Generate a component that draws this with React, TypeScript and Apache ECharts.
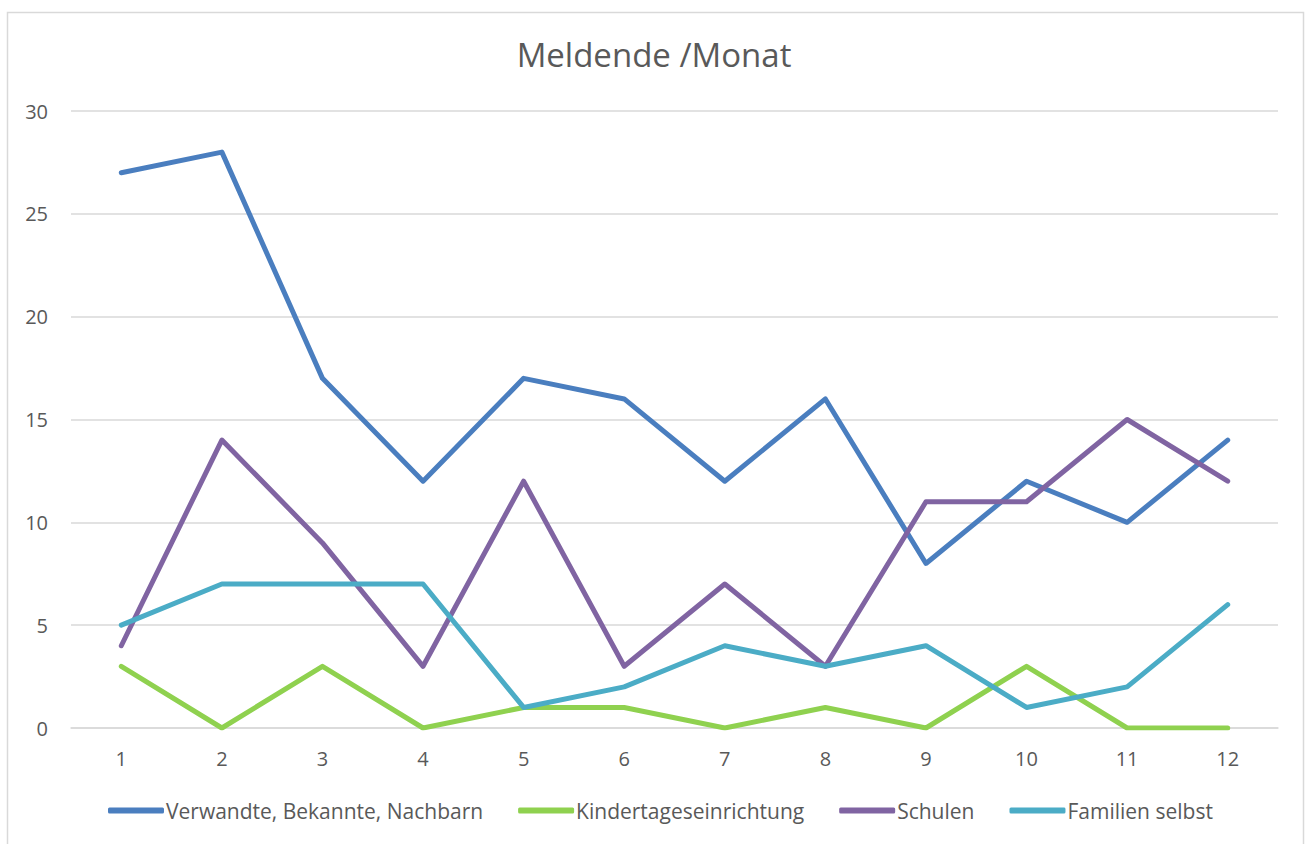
import React, { useEffect, useRef } from "react";
import * as echarts from "echarts";

const months = ["1", "2", "3", "4", "5", "6", "7", "8", "9", "10", "11", "12"];
const verwandte = [27, 28, 17, 12, 17, 16, 12, 16, 8, 12, 10, 14];
const kinder = [3, 0, 3, 0, 1, 1, 0, 1, 0, 3, 0, 0];
const schulen = [4, 14, 9, 3, 12, 3, 7, 3, 11, 11, 15, 12];
const familien = [5, 7, 7, 7, 1, 2, 4, 3, 4, 1, 2, 6];

const seriesNames = ["Verwandte, Bekannte, Nachbarn", "Kindertageseinrichtung", "Schulen", "Familien selbst"];
const seriesData = [verwandte, kinder, schulen, familien];
const colors = ["#4A7EBF", "#8FD14F", "#8064A2", "#4BACC6"];

const FONT = "Open Sans";

export default function App() {
  const ref = useRef<HTMLDivElement>(null);
  useEffect(() => {
    const chart = echarts.init(ref.current!, undefined, { renderer: "svg" });
    chart.setOption({
      animation: false,
      backgroundColor: "#ffffff",
      textStyle: { fontFamily: FONT },
      title: {
        text: "Meldende /Monat",
        left: "center",
        top: 33,
        textStyle: { fontFamily: FONT, fontSize: 33, fontWeight: "normal", color: "#595959" },
      },
      graphic: [
        {
          type: "rect",
          shape: { x: 7.5, y: 12.5, width: 1296, height: 850 },
          style: { fill: "none", stroke: "#D9D9D9", lineWidth: 1.5 },
          silent: true,
          z: -1,
        },
      ],
      legend: {
        top: 800,
        left: 108,
        padding: 0,
        itemWidth: 56,
        itemHeight: 6,
        itemGap: 35,
        icon: "roundRect",
        data: seriesNames,
        textStyle: { fontFamily: FONT, fontSize: 21, color: "#595959", padding: [0, 0, 0, -3] },
      },
      grid: { left: 71, right: 30, top: 111, bottom: 116 },
      xAxis: {
        type: "category",
        data: months,
        boundaryGap: true,
        axisLine: { show: true, lineStyle: { color: "#D9D9D9", width: 1.5 } },
        axisTick: { show: false },
        axisLabel: { fontFamily: FONT, fontSize: 20, color: "#595959", margin: 20 },
      },
      yAxis: {
        type: "value",
        min: 0,
        max: 30,
        interval: 5,
        axisLine: { show: false },
        axisTick: { show: false },
        splitLine: { lineStyle: { color: "#D9D9D9", width: 1.5 } },
        axisLabel: { fontFamily: FONT, fontSize: 20, color: "#595959", margin: 23 },
      },
      series: seriesNames.map((name, i) => ({
        name,
        type: "line",
        data: seriesData[i],
        symbol: "none",
        color: colors[i],
        lineStyle: { width: 5, color: colors[i], cap: "round", join: "round" },
      })),
    });
    return () => chart.dispose();
  }, []);
  return (
    <div
      ref={ref}
      style={{ position: "fixed", left: 0, top: 0, width: 1308, height: 844 }}
    />
  );
}
